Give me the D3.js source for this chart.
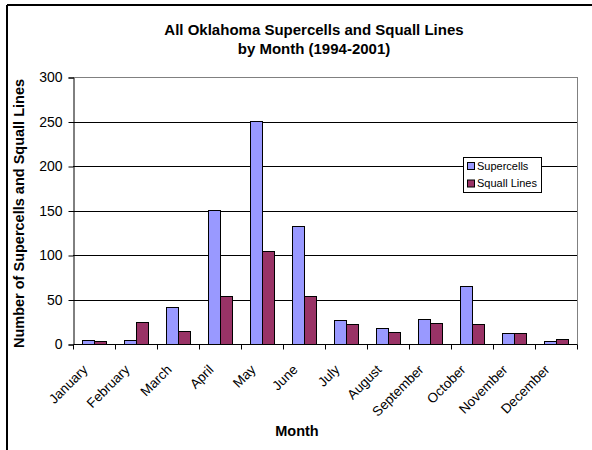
<!DOCTYPE html>
<html>
<head>
<meta charset="utf-8">
<script src="https://cdn.jsdelivr.net/npm/d3@7"></script>
<style>
  html, body { margin: 0; padding: 0; background: #fff; }
  svg { display: block; font-family: Arial, "Liberation Sans", sans-serif; }
</style>
</head>
<body>
<script>
const months = ["January","February","March","April","May","June","July","August","September","October","November","December"];
const supercells = [5, 5, 42, 151, 251, 133, 27, 18, 28, 65, 12, 3];
const squallLines = [3, 25, 15, 54, 105, 54, 23, 13, 24, 23, 12, 6];
const seriesNames = ["Supercells", "Squall Lines"];
const seriesColors = ["#9999FF", "#993366"];
const yTicks = [0, 50, 100, 150, 200, 250, 300];

const W = 592, H = 450;
const plot = { left: 73, right: 577, top: 77, bottom: 344 };

const svg = d3.select("body").append("svg").attr("width", W).attr("height", H);

// outer frame (left and top edges visible)
svg.append("line").attr("x1", 7).attr("x2", W).attr("y1", 5).attr("y2", 5).attr("stroke", "#000").attr("stroke-width", 2);
svg.append("line").attr("x1", 7).attr("x2", 7).attr("y1", 5).attr("y2", H).attr("stroke", "#000").attr("stroke-width", 2);

const x0 = d3.scaleBand().domain(months).range([plot.left, plot.right]).paddingInner(18/42).paddingOuter(9/42);
const x1 = d3.scaleBand().domain(seriesNames).range([0, x0.bandwidth()]);
const y = d3.scaleLinear().domain([0, 300]).range([plot.bottom, plot.top]);

// gridlines
svg.append("g").selectAll("line").data(yTicks.filter(d => d > 0)).join("line")
  .attr("x1", plot.left).attr("x2", plot.right)
  .attr("y1", d => Math.round(y(d)) + 0.5).attr("y2", d => Math.round(y(d)) + 0.5)
  .attr("stroke", d => d === 300 ? "#808080" : "#000").attr("stroke-width", 1);

// plot area right border
svg.append("line").attr("x1", plot.right + 0.5).attr("x2", plot.right + 0.5)
  .attr("y1", plot.top).attr("y2", plot.bottom).attr("stroke", "#808080");

// bars
const data = months.map((m, i) => ({ month: m, values: [supercells[i], squallLines[i]] }));
const groups = svg.append("g").selectAll("g").data(data).join("g")
  .attr("transform", d => `translate(${x0(d.month)},0)`);
groups.selectAll("rect").data(d => d.values.map((v, j) => ({ v, j }))).join("rect")
  .attr("x", d => Math.round(x1(seriesNames[d.j])) + 0.5)
  .attr("width", x1.bandwidth())
  .attr("y", d => Math.round(y(d.v)) + 0.5)
  .attr("height", d => Math.max(0, Math.round(y(0)) - Math.round(y(d.v))))
  .attr("fill", d => seriesColors[d.j])
  .attr("stroke", "#000").attr("stroke-width", 1);

// y axis
const yAxis = d3.axisLeft(y).tickValues(yTicks).tickSize(5).tickPadding(6).tickFormat(d3.format("d"));
const gy = svg.append("g").attr("transform", `translate(${plot.left + 0.5},0.5)`).call(yAxis);
gy.select(".domain").attr("stroke", "#000");
gy.selectAll(".tick line").attr("stroke", "#000");
gy.selectAll("text").attr("font-size", 14).attr("fill", "#000").attr("font-family", "Arial, 'Liberation Sans', sans-serif");

// x axis with ticks at category boundaries
const xLin = d3.scaleLinear().domain([0, months.length]).range([plot.left, plot.right]);
const gx = svg.append("g").attr("transform", `translate(0.5,${Math.round(plot.bottom) + 0.5})`);
gx.append("line").attr("x1", plot.left).attr("x2", plot.right).attr("stroke", "#000");
gx.selectAll("line.tk").data(d3.range(months.length + 1)).join("line").attr("class", "tk")
  .attr("x1", d => Math.round(xLin(d))).attr("x2", d => Math.round(xLin(d)))
  .attr("y1", 0).attr("y2", 5).attr("stroke", "#000");
gx.selectAll("text").data(months).join("text")
  .attr("transform", d => `translate(${x0(d) + x0.bandwidth()/2 - 6},${370 - plot.bottom}) rotate(-45)`)
  .attr("text-anchor", "end")
  .attr("font-size", 13.5)
  .text(d => d);

// titles
const title = svg.append("text").attr("x", 314).attr("y", 35).attr("text-anchor", "middle")
  .attr("font-size", 15).attr("font-weight", "bold");
title.append("tspan").attr("x", 314).attr("dy", 0).text("All Oklahoma Supercells and Squall Lines");
title.append("tspan").attr("x", 314).attr("dy", 18.5).text("by Month (1994-2001)");

svg.append("text").attr("x", 297).attr("y", 436).attr("text-anchor", "middle")
  .attr("font-size", 14.5).attr("font-weight", "bold").text("Month");

svg.append("text").attr("transform", `translate(24,${(plot.top + plot.bottom)/2 + 3}) rotate(-90)`)
  .attr("text-anchor", "middle").attr("font-size", 14.5).attr("font-weight", "bold")
  .text("Number of Supercells and Squall Lines");

// legend
const lg = svg.append("g").attr("transform", "translate(463,157)");
lg.append("rect").attr("x", 0.5).attr("y", 0.5).attr("width", 78).attr("height", 35)
  .attr("fill", "#fff").attr("stroke", "#000");
seriesNames.forEach((s, i) => {
  const cy = 9 + i * 17.5;
  lg.append("rect").attr("x", 4.5).attr("y", cy - 3.5).attr("width", 7).attr("height", 7)
    .attr("fill", seriesColors[i]).attr("stroke", "#000");
  lg.append("text").attr("x", 14).attr("y", cy).attr("dy", "0.35em").attr("font-size", 11).text(s);
});
</script>
</body>
</html>
